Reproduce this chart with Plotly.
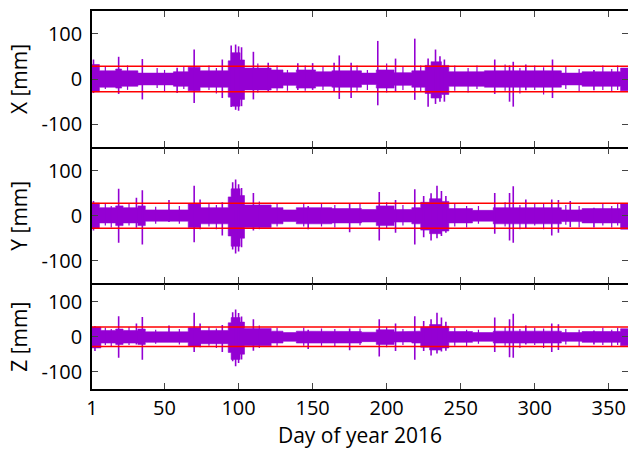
import plotly.graph_objects as go

# ---------------- data ----------------
DAY_TICKS = [1, 50, 100, 150, 200, 250, 300, 350]
Y_TICKS = [-100, 0, 100]
THRESH = [28, -28]                      # red limit lines [mm]
PANEL_TITLES = ["X [mm]", "Y [mm]", "Z [mm]"]

# dense band envelope: (start day, end day, upper mm, lower mm)
X_SEGMENTS = [
    (1, 6, 32, -28), (6, 17, 18, -18), (17, 21, 22, -20), (21, 32, 18, -16),
    (32, 56, 13, -13), (56, 66, 16, -16), (66, 74, 26, -26), (74, 93, 18, -18),
    (93, 95, 40, -40), (95, 101, 58, -60), (101, 104, 42, -45), (104, 122, 24, -24),
    (122, 130, 20, -20), (130, 139, 14, -14), (139, 152, 20, -20), (152, 163, 16, -16),
    (163, 183, 18, -18), (183, 193, 13, -12), (193, 205, 20, -20), (205, 217, 14, -14),
    (217, 226, 18, -18), (226, 230, 30, -32), (230, 237, 38, -42), (237, 242, 30, -34),
    (242, 266, 16, -16), (266, 300, 18, -18), (300, 318, 18, -18), (318, 332, 13, -13),
    (332, 358, 16, -16), (358, 366, 24, -26),
]
# isolated spikes: (day, upper mm, lower mm)
X_SPIKES = [
    (2, 43, -31), (19, 49, -33), (35, 44, -45), (58.5, 25, -31), (70, 65, -53),
    (89, 43, -42), (95, 74, -62), (98, 76, -68), (100, 72, -70), (102, 70, -60),
    (110, 60, -45), (120, 36, -28), (140, 35, -24), (150, 35, -24), (164.5, 36, -28),
    (168, 52, -44), (176, 36, -42), (194, 84, -58), (206, 45, -28), (219, 89, -46),
    (228, 45, -61), (233, 65, -55), (236, 50, -50), (239, 43, -50), (273, 43, -33),
    (283, 30, -50), (285.5, 38, -61), (294, 32, -25), (312, 43, -42), (340, 20, -25),
]
# small fringe spikes on the band edges: (day, upper mm, lower mm)
X_FRINGE = [
    (10, 28, -22), (25, 30, -24), (45, 24, -20), (50, 20, -28), (63, 28, -22),
    (80, 30, -24), (85, 24, -32), (113, 34, -30), (126, 30, -26), (133, 20, -26),
    (145, 30, -26), (157, 28, -24), (180, 30, -26), (187, 20, -24), (200, 34, -30),
    (211, 28, -24), (223, 30, -28), (246, 30, -26), (255, 24, -30), (261, 30, -22),
    (280, 32, -26), (290, 24, -32), (300, 30, -24), (306, 26, -34), (321, 28, -22),
    (330, 22, -28), (346, 30, -24), (352, 22, -28), (356, 30, -24),
]

Y_SEGMENTS = [
    (1, 6, 28, -28), (6, 17, 18, -16), (17, 22, 22, -22), (22, 32, 18, -16),
    (32, 37, 22, -22), (37, 66, 13, -12), (66, 74, 26, -26), (74, 93, 18, -18),
    (93, 95, 42, -45), (95, 101, 60, -68), (101, 104, 45, -50), (104, 122, 24, -26),
    (122, 130, 18, -18), (130, 139, 13, -13), (139, 163, 18, -18), (163, 183, 16, -16),
    (183, 193, 14, -14), (193, 205, 22, -22), (205, 217, 14, -14), (217, 223, 18, -18),
    (223, 229, 30, -32), (229, 237, 38, -40), (237, 242, 32, -34), (242, 258, 16, -16),
    (258, 272, 12, -12), (272, 300, 18, -18), (300, 318, 18, -18), (318, 332, 13, -13),
    (332, 358, 16, -16), (358, 366, 26, -30),
]
Y_SPIKES = [
    (2, 33, -33), (19, 60, -60), (31, 40, -27), (35, 57, -64), (53, 35, -14),
    (70, 67, -59), (74, 36, -30), (89, 30, -44), (96, 75, -75), (98, 81, -84),
    (100, 70, -80), (102, 62, -70), (110, 51, -33), (147, 22, -30), (175, 27, -37),
    (195, 53, -55), (206, 35, -38), (219, 59, -64), (225, 44, -48), (230, 50, -55),
    (234, 67, -50), (237, 55, -45), (240, 44, -38), (273, 51, -40), (283, 51, -55),
    (285.5, 66, -60), (294, 36, -28), (311.5, 36, -44), (316, 35, -38), (324, 33, -25),
    (340, 18, -26),
]
Y_FRINGE = [
    (10, 26, -22), (14, 22, -26), (26, 28, -22), (44, 20, -18), (60, 22, -18),
    (80, 28, -24), (85, 24, -30), (114, 32, -30), (126, 28, -24), (144, 28, -24),
    (156, 26, -24), (165, 24, -26), (182, 26, -22), (200, 30, -28), (211, 24, -22),
    (246, 28, -24), (254, 22, -26), (262, 22, -18), (280, 30, -24), (290, 24, -30),
    (300, 28, -22), (306, 26, -30), (321, 24, -20), (330, 22, -26), (346, 28, -22),
    (352, 22, -26), (356, 28, -22),
]

Z_SEGMENTS = [
    (1, 7, 28, -32), (7, 17, 18, -18), (17, 22, 22, -22), (22, 32, 18, -18),
    (32, 37, 22, -22), (37, 66, 14, -16), (66, 74, 26, -28), (74, 93, 18, -20),
    (93, 95, 40, -45), (95, 101, 55, -65), (101, 104, 42, -50), (104, 122, 24, -26),
    (122, 130, 16, -18), (130, 139, 12, -13), (139, 163, 16, -18), (163, 183, 15, -18),
    (183, 193, 13, -14), (193, 205, 20, -22), (205, 217, 14, -15), (217, 223, 16, -18),
    (223, 229, 28, -30), (229, 237, 35, -38), (237, 242, 30, -32), (242, 258, 15, -16),
    (258, 272, 12, -13), (272, 300, 16, -18), (300, 318, 16, -18), (318, 332, 12, -13),
    (332, 358, 15, -16), (358, 366, 23, -26),
]
Z_SPIKES = [
    (3, 31, -41), (19, 59, -60), (31, 38, -22), (35, 57, -66), (53, 32, -15),
    (70, 69, -44), (74, 38, -30), (89, 34, -44), (96, 70, -70), (98, 78, -85),
    (100, 68, -75), (102, 58, -65), (110, 50, -40), (147, 20, -35), (175, 24, -39),
    (195, 50, -57), (206, 38, -41), (219, 59, -66), (225, 45, -41), (230, 50, -54),
    (234, 69, -48), (237, 55, -42), (240, 43, -40), (273, 55, -44), (283, 50, -59),
    (285.5, 66, -60), (294, 32, -22), (311.5, 38, -44), (316, 36, -38), (340, 18, -22),
]
Z_FRINGE = [
    (10, 26, -24), (14, 22, -28), (26, 28, -24), (44, 20, -20), (60, 22, -22),
    (80, 28, -26), (85, 24, -32), (114, 32, -32), (126, 26, -26), (144, 26, -26),
    (156, 24, -26), (165, 22, -28), (182, 24, -24), (200, 28, -30), (211, 22, -24),
    (246, 26, -26), (254, 20, -28), (262, 20, -20), (280, 28, -26), (290, 22, -32),
    (300, 26, -24), (306, 24, -32), (321, 22, -22), (330, 20, -28), (346, 26, -24),
    (352, 20, -28), (356, 26, -24),
]

PANELS = [(X_SEGMENTS, X_SPIKES, X_FRINGE), (Y_SEGMENTS, Y_SPIKES, Y_FRINGE),
          (Z_SEGMENTS, Z_SPIKES, Z_FRINGE)]

# ---------------- styling ----------------
PURPLE = "#9400d3"
FONT = "Open Sans"
W, H = 628, 455
ML, MR, MT, MB = 92, 0, 11, 66
LW = 1.5
ph = H - MT - MB
# panel pixel extents (top, bottom); lower panels overlap by LW so borders coincide
PANEL_PX = [(11, 147), (147 + LW, 283), (283 + LW, 389)]

fig = go.Figure()
for i, (segs, spikes, fringe) in enumerate(PANELS):
    n = i + 1
    xa = "x" if n == 1 else f"x{n}"
    ya = "y" if n == 1 else f"y{n}"
    # band outline: upper steps left->right, lower steps right->left
    px, py = [], []
    for s, e, hi, lo in segs:
        px += [s, e]
        py += [hi, hi]
    for s, e, hi, lo in reversed(segs):
        px += [e, s]
        py += [lo, lo]
    fig.add_trace(go.Scatter(
        x=px, y=py, mode="lines", fill="toself", fillcolor=PURPLE,
        line=dict(width=0.6, color=PURPLE), xaxis=xa, yaxis=ya,
        showlegend=False, hoverinfo="skip",
    ))
    for pts, w in ((fringe, 1.2), (spikes, 1.6)):
        sx, sy = [], []
        for d, hi, lo in pts:
            sx += [d, d, None]
            sy += [lo, hi, None]
        fig.add_trace(go.Scatter(
            x=sx, y=sy, mode="lines", line=dict(width=w, color=PURPLE),
            xaxis=xa, yaxis=ya, showlegend=False, hoverinfo="skip",
        ))
    for t in THRESH:
        fig.add_shape(type="line", xref=xa, yref=ya, x0=DAY_TICKS[0], x1=366,
                      y0=t, y1=t, line=dict(color="#ff0000", width=1.5), layer="above")

layout = dict(
    width=W, height=H, margin=dict(l=ML, r=MR, t=MT, b=MB),
    plot_bgcolor="white", paper_bgcolor="white",
    font=dict(family=FONT, size=21, color="black"),
)
for i, (top, bot) in enumerate(PANEL_PX):
    n = i + 1
    sfx = "" if n == 1 else str(n)
    d0 = (H - MB - bot) / ph
    d1 = (H - MB - top) / ph
    layout[f"xaxis{sfx}"] = dict(
        domain=[0, 1], range=[1, 363], anchor=f"y{sfx}",
        tickvals=DAY_TICKS, ticktext=[str(v) for v in DAY_TICKS],
        showticklabels=(n == 3), ticks="inside", ticklen=6, tickwidth=1,
        tickcolor="#444", showline=True, linecolor="black", linewidth=LW,
        mirror="ticks", showgrid=False, zeroline=False,
        tickfont=dict(size=20),
        title=dict(text="Day of year 2016", font=dict(size=21), standoff=8) if n == 3 else None,
        matches="x" if n > 1 else None,
    )
    layout[f"yaxis{sfx}"] = dict(
        domain=[d0, d1], range=[-150, 150], anchor=f"x{sfx}",
        tickvals=Y_TICKS, ticktext=[str(v) for v in Y_TICKS],
        ticks="inside", ticklen=6, tickwidth=1, tickcolor="#444",
        showline=True, linecolor="black", linewidth=LW, mirror=False,
        showgrid=False, zeroline=False, ticklabelstandoff=4,
        tickfont=dict(size=20),
        title=dict(text=PANEL_TITLES[i], font=dict(size=21), standoff=8),
    )
    # right-side tick marks without a border line
    layout[f"yaxis{n + 3}"] = dict(
        domain=[d0, d1], range=[-150, 150], overlaying=f"y{sfx}", side="right",
        anchor=f"x{sfx}", tickvals=Y_TICKS, showticklabels=False,
        ticks="inside", ticklen=6, tickwidth=1, tickcolor="#444",
        showline=False, showgrid=False, zeroline=False,
    )
fig.update_layout(**layout)
for i in range(3):
    fig.add_trace(go.Scatter(x=[None], y=[None], xaxis="x" if i == 0 else f"x{i+1}",
                             yaxis=f"y{i+4}", showlegend=False, hoverinfo="skip"))

fig.write_html("out.html")
